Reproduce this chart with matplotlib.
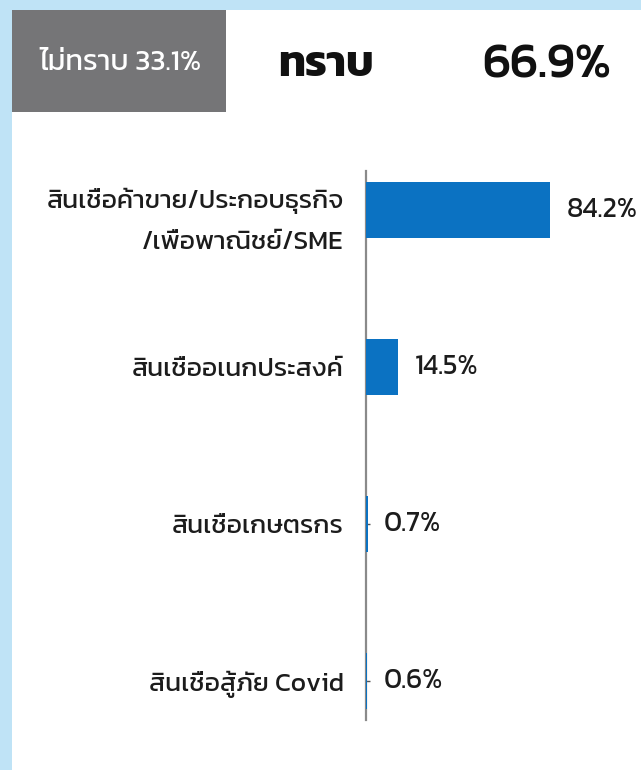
import matplotlib
matplotlib.use("Agg")
import matplotlib.pyplot as plt
from matplotlib.patches import Rectangle

plt.rcParams["font.family"] = ["Kanit", "DejaVu Sans"]

# loan types and share of respondents who know about them (%)
categories = [
    "สินเชื่อค้าขาย/ประกอบธุรกิจ\n/เพื่อพาณิชย์/SME",
    "สินเชื่ออเนกประสงค์",
    "สินเชื่อเกษตรกร",
    "สินเชื่อสู้ภัย Covid",
]
shares = [84.2, 14.5, 0.7, 0.6]
unknown_share = 33.1
known_share = 66.9

BLUE = "#0b72c2"
FRAME = "#bfe3f6"
INK = "#1c1c1c"

W, H = 641, 770
fig = plt.figure(figsize=(W / 100, H / 100), dpi=100, facecolor="white")

# light blue frame on the left and top edges
fig.patches.append(Rectangle((0, 0), 12 / W, 1, transform=fig.transFigure,
                             facecolor=FRAME, edgecolor="none", zorder=0))
fig.patches.append(Rectangle((0, 1 - 10 / H), 1, 10 / H, transform=fig.transFigure,
                             facecolor=FRAME, edgecolor="none", zorder=0))

# grey "don't know" box
fig.patches.append(Rectangle((12 / W, 1 - 112 / H), 214 / W, 102 / H,
                             transform=fig.transFigure, facecolor="#757577",
                             edgecolor="none", zorder=1))
fig.text(120 / W, 1 - 63 / H, "ไม่ทราบ {:.1f}%".format(unknown_share),
         color="white", fontsize=21, ha="center", va="center")
fig.text(326 / W, 1 - 66 / H, "ทราบ", fontsize=31, fontweight="bold",
         ha="center", va="center", color="#111111")
fig.text(547 / W, 1 - 66 / H, "{:.1f}%".format(known_share), fontsize=35,
         fontweight="medium", ha="center", va="center", color="#111111")

ax = fig.add_axes([366 / W, 50 / H, 218.5 / W, 549 / H])
ypos = list(range(len(categories)))
bars = ax.barh(ypos, shares, height=0.357, color=BLUE, zorder=3)
ax.set_xlim(0, 100)
ax.set_ylim(3.25, -0.25)

for bar, value in zip(bars, shares):
    ax.annotate("{:.1f}%".format(value),
                (bar.get_width(), bar.get_y() + bar.get_height() / 2),
                xytext=(12, 0), textcoords="offset points",
                ha="left", va="center", fontsize=20, color=INK,
                annotation_clip=False)

ax.set_yticks(ypos)
ax.set_yticklabels(categories, fontsize=19, color=INK,
                   multialignment="right", linespacing=1.95)
ax.tick_params(axis="y", direction="in", length=3, width=1, color="#555555", pad=16)
ax.tick_params(axis="x", bottom=False, labelbottom=False)
for side in ["top", "right", "bottom"]:
    ax.spines[side].set_visible(False)
ax.spines["left"].set_color("#8a8a8a")
ax.spines["left"].set_linewidth(1.6)
ax.set_facecolor("none")

fig.savefig("out.png", dpi=100)
